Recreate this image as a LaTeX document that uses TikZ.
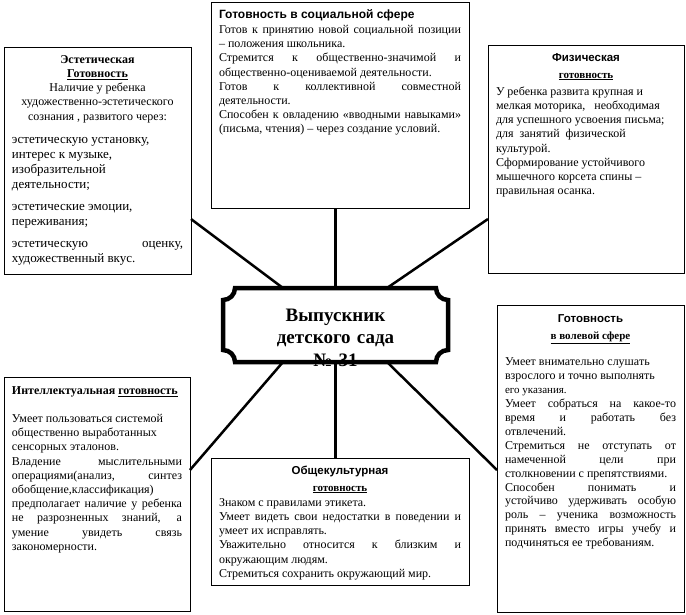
\documentclass[tikz,border=0pt]{standalone}
\usepackage{fontspec}
\setmainfont{Liberation Serif}
\setsansfont{Liberation Sans}
\usepackage{tikz}
\hyphenpenalty=10000 \exhyphenpenalty=10000
\tolerance=10000 \hbadness=10000 \vbadness=10000 \hfuzz=6pt
\newcommand{\boxbody}[3]{\vbox to #1{\vskip #2\prevdepth=0pt\relax #3\par\vss}}
\newcommand{\sfhead}[1]{{\centering\sffamily\bfseries\fontsize{11.5}{14}\selectfont #1\par}}
\newcommand{\ulhead}[1]{{\centering\bfseries\fontsize{11}{17}\selectfont\underline{#1}\par}}

\begin{document}
\begin{tikzpicture}[x=1pt,y=-1pt,
	card/.style={draw,line width=0.8pt,anchor=north west,outer sep=0pt,inner xsep=8pt,inner ysep=0pt,align=justify,font=\fontsize{12}{14.2}\selectfont},
	plaque/.style={anchor=north west,outer sep=0pt,inner sep=0pt,text width=225pt,align=center,font=\bfseries\fontsize{19}{22.5}\selectfont},
	plaqueline/.style={line width=4.5pt},
	link/.style={line width=2.5pt}]
		\fill[white] (0,0) rectangle (686,614);
		\useasboundingbox (0,0) rectangle (686,614);
		
		\node[card,text width=171pt] (aest) at (4,47) {\boxbody{227pt}{2pt}{%
			{\centering\bfseries Эстетическая\par \underline{Готовность}\par \mdseries Наличие у ребенка\par художественно-эстетического\par сознания , развитого через:\par}
			\vskip 8pt
			{\fontsize{13}{15}\selectfont эстетическую установку,\par интерес к музыке,\par изобразительной\par деятельности;\par
			\vskip 7pt эстетические эмоции,\par переживания;\par
			\vskip 7pt эстетическую оценку,\linebreak художественный вкус.\par}}};
		
		\node[card,text width=242pt] (soc) at (211,2) {\boxbody{206pt}{2pt}{%
			{\sffamily\bfseries Готовность в социальной сфере\par}
			\vskip 1pt
			Готов к принятию новой социальной позиции\linebreak – положения школьника.\par
			Стремится к общественно-значимой и\linebreak общественно-оцениваемой деятельности.\par
			Готов к коллективной совместной\linebreak деятельности.\par
			Способен к овладению «вводными навыками»\linebreak (письма, чтения) – через создание условий.\par}};
		
		\node[card,text width=180pt] (phys) at (488,45) {\boxbody{228pt}{2pt}{%
			\sfhead{Физическая}
			\ulhead{готовность}
			\vskip 3pt
			У ребенка развита крупная и\par мелкая моторика,\ \ \ необходимая\par для успешного усвоения письма;\par для\ \ занятий\ \ физической\par культурой.\par
			Сформирование устойчивого\par мышечного корсета спины –\par правильная осанка.\par}};
		
		\node[card,text width=170pt] (intel) at (4,377) {\boxbody{234pt}{3pt}{%
			{\bfseries\mbox{Интеллектуальная \underline{готовность}}\par}
			\vskip 14pt
			Умеет пользоваться системой\par общественно выработанных\par сенсорных эталонов.\par
			Владение мыслительными\linebreak операциями(анализ, синтез\linebreak обобщение,классификация)\par
			предполагает наличие у ребенка\linebreak не разрозненных знаний, а\linebreak умение увидеть связь\linebreak закономерности.\par}};
		
		\node[card,text width=242pt] (cult) at (211,458) {\boxbody{127pt}{2pt}{%
			\sfhead{Общекультурная}
			\ulhead{готовность}
			\vskip 1pt
			Знаком с правилами этикета.\par
			Умеет видеть свои недостатки в поведении и\linebreak умеет их исправлять.\par
			Уважительно относится к близким и\linebreak окружающим людям.\par
			Стремиться сохранить окружающий мир.\par}};
		
		\node[card,text width=171pt] (vol) at (497,305) {\boxbody{307pt}{3pt}{%
			\sfhead{Готовность}
			\ulhead{в волевой сфере}
			\vskip 13pt
			\fontsize{12}{13.9}\selectfont
			Умеет внимательно слушать\par взрослого и точно выполнять\par {\fontsize{11}{13.9}\selectfont его указания.}\par
			Умеет собраться на какое-то\linebreak время и работать без\linebreak отвлечений.\par
			Стремиться не отступать от\linebreak намеченной цели при\linebreak столкновении с препятствиями.\par
			Способен понимать и\linebreak устойчиво удерживать особую\linebreak роль – ученика возможность\linebreak принять вместо игры учебу и\linebreak подчиняться ее требованиям.\par}};
		
		\node[plaque] (grad) at (223,288) {\boxbody{74pt}{10.5pt}{Выпускник\par детского сада\par №~31\par}};
		
		\draw[link] ([yshift=-58.5pt]aest.east) -- ([xshift=-52.5pt]grad.north);
		\draw[link] (soc.south -| grad.north) -- (grad.north);
		\draw[link] ([yshift=-60pt]phys.west) -- ([xshift=51.5pt]grad.north);
		\draw[link] ([xshift=-52.5pt]grad.south) -- ([yshift=24pt]intel.east);
		\draw[link] (grad.south) -- (cult.north -| grad.south);
		\draw[link] ([xshift=51.5pt]grad.south) -- ([yshift=-11.5pt]vol.west);
		
		\draw[plaqueline] ([xshift=12pt]grad.north west) -- ([xshift=-12pt]grad.north east)
			arc[start angle=180,end angle=270,radius=12pt] -- ([yshift=12pt]grad.south east)
			arc[start angle=90,end angle=180,radius=12pt] -- ([xshift=12pt]grad.south west)
			arc[start angle=0,end angle=90,radius=12pt] -- ([yshift=-12pt]grad.north west)
			arc[start angle=270,end angle=360,radius=12pt] -- cycle;
	\end{tikzpicture}
\end{document}
